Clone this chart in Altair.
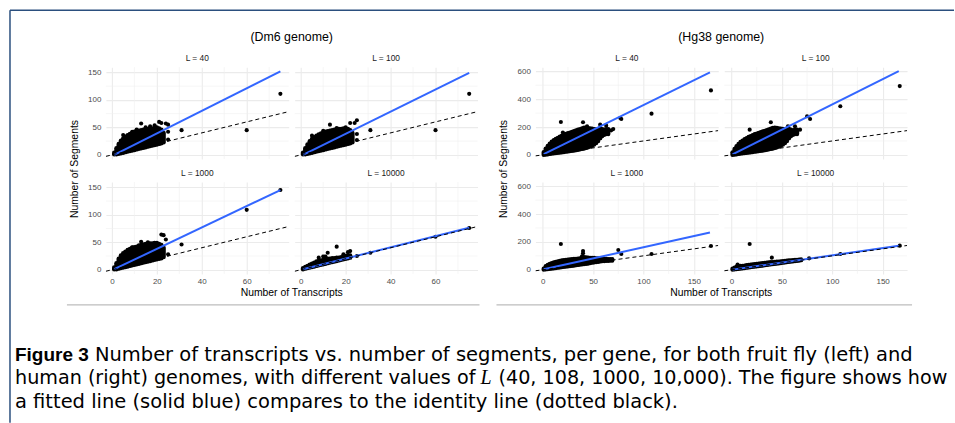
import altair as alt
import pandas as pd

FONT = "Liberation Sans"
CAP_FONT = "DejaVu Sans"

# ---------------- Dm6 genome ----------------
dm_x_domain = [-2.7, 78.7]
dm_y_domain = [-7.6, 159.6]
dm_x_ticks = [0, 20, 40, 60]
dm_x_minor = [10, 30, 50, 70]
dm_y_ticks = [0, 50, 100, 150]
dm_y_minor = [25, 75, 125]

# dense cloud: per-transcript-count column, lowest and highest segment count
dm40_cx = [1, 2, 3, 4, 5, 6, 7, 8, 9, 10, 11, 12, 13, 14, 15, 16, 17, 18, 19, 20, 21, 22, 23]
dm40_lo = [1, 1, 2, 3, 4, 5, 6, 7, 8, 9, 10, 11, 12, 13, 14, 15, 16, 17, 18, 19, 20, 21, 23]
dm40_hi = [4, 12, 20, 26, 30, 33, 36, 38, 40, 42, 43, 44, 45, 46, 47, 47, 48, 48, 49, 50, 48, 46, 40]
dm40_px = [5, 13, 17, 19, 21, 22, 24, 25, 25, 25, 31, 60, 75, 9, 11, 15]
dm40_py = [36, 57, 52, 54, 60, 58, 57, 55, 42, 28, 45, 45, 111, 42, 46, 50]
dm40_fx = [1, 75]
dm40_fy = [0, 152]

dm100_cx = [1, 2, 3, 4, 5, 6, 7, 8, 9, 10, 11, 12, 13, 14, 15, 16, 17, 18, 19, 20, 21, 22, 23]
dm100_lo = [1, 1, 2, 3, 4, 5, 6, 7, 8, 9, 10, 11, 12, 13, 14, 15, 16, 17, 18, 19, 20, 21, 23]
dm100_hi = [4, 12, 19, 25, 29, 32, 35, 37, 39, 41, 42, 43, 44, 45, 46, 46, 47, 47, 48, 48, 47, 45, 40]
dm100_px = [5, 13, 20, 22, 24, 25, 25, 25, 31, 60, 75, 10, 16]
dm100_py = [35, 55, 50, 58, 58, 63, 38, 27, 45, 45, 111, 44, 49]
dm100_fx = [1, 75]
dm100_fy = [0, 149]

dm1000_cx = [1, 2, 3, 4, 5, 6, 7, 8, 9, 10, 11, 12, 13, 14, 15, 16, 17, 18, 19, 20, 21, 22, 23]
dm1000_lo = [1, 1, 2, 3, 4, 5, 6, 7, 8, 9, 10, 11, 12, 13, 14, 15, 16, 17, 18, 19, 20, 21, 23]
dm1000_hi = [4, 12, 20, 26, 30, 33, 36, 38, 40, 41, 42, 44, 45, 46, 47, 47, 48, 48, 49, 49, 47, 45, 40]
dm1000_px = [13, 19, 22, 23, 24, 25, 31, 60, 75, 9, 16]
dm1000_py = [51, 48, 64, 63, 55, 28, 46, 109, 145, 41, 50]
dm1000_fx = [1, 75]
dm1000_fy = [1, 145]

dm10000_cx = [1, 2, 3, 4, 5, 6, 7, 8, 9, 10, 11, 12, 13, 14, 15, 16, 17, 18, 19, 20, 21, 22]
dm10000_lo = [1, 2, 3, 4, 5, 6, 7, 8, 9, 10, 11, 12, 13, 14, 15, 16, 17, 18, 19, 20, 21, 22]
dm10000_hi = [3, 5, 7, 9, 11, 13, 15, 16, 17, 18, 19, 20, 20, 21, 21, 22, 22, 23, 24, 25, 26, 26]
dm10000_px = [8, 10, 11, 12, 16, 19, 21, 22, 25, 31, 60, 75]
dm10000_py = [22, 24, 24, 31, 42, 28, 32, 34, 25, 31, 60, 76]
dm10000_fx = [1, 75]
dm10000_fy = [1, 76.5]

# ---------------- Hg38 genome ----------------
hg_x_domain = [-7.25, 174.25]
hg_y_domain = [-30, 630]
hg_x_ticks = [0, 50, 100, 150]
hg_x_minor = [25, 75, 125]
hg_y_ticks = [0, 200, 400, 600]
hg_y_minor = [100, 300, 500]

hg40_cx = [1, 3, 5, 7, 9, 11, 13, 15, 17, 19, 21, 23, 25, 27, 29, 31, 33, 35, 37, 39, 41, 43, 45, 47, 49, 51, 53, 55, 57, 59, 61, 63, 65]
hg40_lo = [1, 3, 5, 7, 9, 11, 13, 15, 17, 19, 21, 23, 25, 27, 29, 31, 34, 37, 40, 43, 46, 50, 55, 60, 66, 75, 85, 100, 120, 135, 145, 150, 150]
hg40_hi = [20, 45, 65, 80, 95, 105, 115, 122, 130, 138, 145, 150, 155, 160, 165, 170, 175, 180, 185, 190, 195, 195, 192, 190, 188, 185, 182, 178, 190, 185, 180, 185, 185]
hg40_px = [18, 20, 40, 44, 52, 57, 63, 68, 70, 77, 78, 108, 167]
hg40_py = [236, 161, 234, 205, 89, 217, 210, 176, 185, 265, 258, 296, 463]
hg40_fx = [1, 166]
hg40_fy = [5, 592]

hg100_cx = [1, 3, 5, 7, 9, 11, 13, 15, 17, 19, 21, 23, 25, 27, 29, 31, 33, 35, 37, 39, 41, 43, 45, 47, 49, 51, 53, 55, 57, 59, 61, 63, 65]
hg100_lo = [1, 3, 5, 7, 9, 11, 13, 15, 17, 19, 21, 23, 25, 27, 29, 31, 34, 37, 40, 43, 46, 50, 55, 60, 66, 75, 85, 100, 120, 135, 145, 150, 150]
hg100_hi = [18, 42, 62, 78, 92, 102, 112, 120, 128, 135, 142, 148, 153, 158, 163, 168, 172, 177, 182, 188, 193, 195, 193, 190, 188, 186, 183, 180, 186, 180, 176, 182, 180]
hg100_px = [18, 39, 51, 56, 63, 68, 75, 78, 108, 167]
hg100_py = [181, 234, 96, 205, 205, 181, 277, 258, 349, 494]
hg100_fx = [1, 166]
hg100_fy = [3, 602]

hg1000_cx = [1, 3, 5, 7, 9, 11, 13, 15, 17, 19, 21, 23, 25, 27, 29, 31, 33, 35, 37, 39, 41, 43, 45, 47, 49, 51, 53, 55, 57, 59, 61, 63, 65, 67, 69]
hg1000_lo = [1, 3, 5, 7, 9, 11, 13, 15, 17, 19, 21, 23, 25, 27, 29, 31, 33, 35, 37, 39, 41, 43, 45, 48, 51, 54, 56, 58, 60, 62, 63, 64, 65, 66, 67]
hg1000_hi = [8, 25, 35, 42, 48, 52, 56, 60, 63, 66, 68, 70, 72, 74, 75, 77, 78, 80, 82, 95, 90, 88, 86, 85, 85, 84, 82, 82, 80, 80, 78, 78, 76, 76, 75]
hg1000_px = [18, 40, 40, 75, 78, 108, 167]
hg1000_py = [185, 135, 118, 142, 113, 113, 171]
hg1000_fx = [1, 166]
hg1000_fy = [3, 267]

hg10000_cx = [1, 3, 5, 7, 9, 11, 13, 15, 17, 19, 21, 23, 25, 27, 29, 31, 33, 35, 37, 39, 41, 43, 45, 47, 49, 51, 53, 55, 57, 59, 61, 63, 65, 67, 69]
hg10000_lo = [1, 3, 5, 7, 9, 11, 13, 15, 17, 19, 21, 23, 25, 27, 29, 31, 33, 35, 37, 39, 41, 43, 45, 47, 49, 51, 53, 55, 57, 59, 61, 63, 65, 67, 69]
hg10000_hi = [8, 15, 22, 25, 27, 28, 30, 32, 34, 36, 38, 40, 42, 43, 45, 47, 49, 50, 52, 55, 55, 56, 58, 58, 60, 62, 63, 65, 66, 67, 68, 70, 71, 72, 74]
hg10000_px = [6, 18, 40, 77, 108, 167]
hg10000_py = [38, 185, 87, 82, 113, 173]
hg10000_fx = [1, 166]
hg10000_fy = [1, 172]

FIG_TITLES = ["(Dm6 genome)", "(Hg38 genome)"]
X_TITLE = "Number of Transcripts"
Y_TITLE = "Number of Segments"
CAPTION_BOLD = "Figure 3"
CAPTION_1 = "Number of transcripts vs. number of segments, per gene, for both fruit fly (left) and"
CAPTION_2A = "human (right) genomes, with different values of"
CAPTION_2B = "L"
CAPTION_2C = "(40, 108, 1000, 10,000). The figure shows how"
CAPTION_3 = "a fitted line (solid blue) compares to the identity line (dotted black)."

W, H = 183, 92
FRAME = "#2B4F7E"


def txt(s, x, y, size, color="black", weight="normal", angle=0, align="center",
        font=FONT, style="normal"):
    mk = dict(fontSize=size, color=color, fontWeight=weight, align=align,
              baseline="middle", font=font)
    if angle:
        mk["angle"] = angle
    if style != "normal":
        mk["fontStyle"] = style
    return alt.Chart(pd.DataFrame({"t": [s]})).mark_text(**mk).encode(
        text="t:N", x=alt.value(x), y=alt.value(y))


def hline(x1, x2, y, color, w):
    return alt.Chart(pd.DataFrame({"a": [0]})).mark_rule(color=color, strokeWidth=w).encode(
        x=alt.value(x1), x2=alt.value(x2), y=alt.value(y))


def vline(x, y1, y2, color, w):
    return alt.Chart(pd.DataFrame({"a": [0]})).mark_rule(color=color, strokeWidth=w).encode(
        x=alt.value(x), y=alt.value(y1), y2=alt.value(y2))


def panel(cx, lo, hi, px, py, fx, fy, xdom, ydom, xt, xm, yt, ym,
          show_x, show_y, strip, extra=()):
    xs = alt.Scale(domain=xdom, nice=False, zero=False)
    ys = alt.Scale(domain=ydom, nice=False, zero=False)
    xax = alt.Axis(values=xt, grid=True, ticks=False, tickSize=0, domain=False,
                   labels=show_x, title=None, labelPadding=4, labelFontSize=8,
                   labelColor="#4D4D4D", labelFont=FONT,
                   gridColor="#EBEBEB", gridWidth=1.1)
    yax = alt.Axis(values=yt, grid=True, ticks=False, tickSize=0, domain=False,
                   labels=show_y, title=None, labelPadding=5, labelFontSize=8,
                   labelColor="#4D4D4D", labelFont=FONT,
                   gridColor="#EBEBEB", gridWidth=1.1)
    gx = alt.Chart(pd.DataFrame({"v": xm})).mark_rule(color="#F0F0F0", strokeWidth=0.6).encode(
        x=alt.X("v:Q", scale=xs, axis=xax))
    gy = alt.Chart(pd.DataFrame({"v": ym})).mark_rule(color="#F0F0F0", strokeWidth=0.6).encode(
        y=alt.Y("v:Q", scale=ys, axis=yax))
    cols = alt.Chart(pd.DataFrame({"x": cx, "lo": lo, "hi": hi})).mark_rule(
        color="black", strokeWidth=4.4, strokeCap="round").encode(
        x=alt.X("x:Q", scale=xs, axis=xax), y=alt.Y("lo:Q", scale=ys, axis=yax), y2="hi:Q")
    pts = alt.Chart(pd.DataFrame({"x": px, "y": py})).mark_circle(
        color="black", size=17, opacity=1).encode(
        x=alt.X("x:Q", scale=xs, axis=xax), y=alt.Y("y:Q", scale=ys, axis=yax))
    fit = alt.Chart(pd.DataFrame({"x": fx, "y": fy})).mark_line(
        color="#3366FF", strokeWidth=2).encode(
        x=alt.X("x:Q", scale=xs, axis=xax), y=alt.Y("y:Q", scale=ys, axis=yax))
    ident = alt.Chart(pd.DataFrame({"x": xdom, "y": xdom})).mark_line(
        color="black", strokeWidth=1, strokeDash=[4, 3], clip=True).encode(
        x=alt.X("x:Q", scale=xs, axis=xax), y=alt.Y("y:Q", scale=ys, axis=yax))
    st = txt(strip, W / 2, -9, 8.4, color="#1A1A1A")
    return alt.layer(gx, gy, cols, pts, fit, ident, st, *extra).properties(width=W, height=H)


def spacer():
    return alt.Chart(pd.DataFrame({"a": [0]})).mark_point(opacity=0).encode(
        x=alt.value(0), y=alt.value(0)).properties(width=46, height=H)


# decorations and caption, positioned relative to the Dm6 top-left panel
deco = [
    hline(-96, 849, -57, FRAME, 1.5),
    vline(-96, -57, 356, FRAME, 1.5),
    hline(-39, 374, 238, "#BDBDBD", 1.2),
    hline(391, 807, 238, "#BDBDBD", 1.2),
    txt(CAPTION_BOLD, -91, 288, 19, weight="bold", align="left"),
    txt(CAPTION_1, -11, 288, 19.5, align="left", font=CAP_FONT),
    txt(CAPTION_2A, -91, 311, 19.2, align="left", font=CAP_FONT),
    txt(CAPTION_2B, 375, 311, 20, align="left", font="Liberation Serif", style="italic"),
    txt(CAPTION_2C, 393, 311, 19.2, align="left", font=CAP_FONT),
    txt(CAPTION_3, -91, 335, 19.5, align="left", font=CAP_FONT),
    txt(FIG_TITLES[0], W + 3, -30, 12.4),
]

dm_TL = panel(dm40_cx, dm40_lo, dm40_hi, dm40_px, dm40_py, dm40_fx, dm40_fy,
              dm_x_domain, dm_y_domain, dm_x_ticks, dm_x_minor, dm_y_ticks, dm_y_minor,
              False, True, "L = 40", deco)
dm_TR = panel(dm100_cx, dm100_lo, dm100_hi, dm100_px, dm100_py, dm100_fx, dm100_fy,
              dm_x_domain, dm_y_domain, dm_x_ticks, dm_x_minor, dm_y_ticks, dm_y_minor,
              False, False, "L = 100")
dm_BL = panel(dm1000_cx, dm1000_lo, dm1000_hi, dm1000_px, dm1000_py, dm1000_fx, dm1000_fy,
              dm_x_domain, dm_y_domain, dm_x_ticks, dm_x_minor, dm_y_ticks, dm_y_minor,
              True, True, "L = 1000",
              [txt(X_TITLE, W + 3, 111, 10.4), txt(Y_TITLE, -31, -13, 10.4, angle=270)])
dm_BR = panel(dm10000_cx, dm10000_lo, dm10000_hi, dm10000_px, dm10000_py, dm10000_fx, dm10000_fy,
              dm_x_domain, dm_y_domain, dm_x_ticks, dm_x_minor, dm_y_ticks, dm_y_minor,
              True, False, "L = 10000")

hg_TL = panel(hg40_cx, hg40_lo, hg40_hi, hg40_px, hg40_py, hg40_fx, hg40_fy,
              hg_x_domain, hg_y_domain, hg_x_ticks, hg_x_minor, hg_y_ticks, hg_y_minor,
              False, True, "L = 40", [txt(FIG_TITLES[1], W + 3, -30, 12.4)])
hg_TR = panel(hg100_cx, hg100_lo, hg100_hi, hg100_px, hg100_py, hg100_fx, hg100_fy,
              hg_x_domain, hg_y_domain, hg_x_ticks, hg_x_minor, hg_y_ticks, hg_y_minor,
              False, False, "L = 100")
hg_BL = panel(hg1000_cx, hg1000_lo, hg1000_hi, hg1000_px, hg1000_py, hg1000_fx, hg1000_fy,
              hg_x_domain, hg_y_domain, hg_x_ticks, hg_x_minor, hg_y_ticks, hg_y_minor,
              True, True, "L = 1000",
              [txt(X_TITLE, W + 3, 111, 10.4), txt(Y_TITLE, -31, -13, 10.4, angle=270)])
hg_BR = panel(hg10000_cx, hg10000_lo, hg10000_hi, hg10000_px, hg10000_py, hg10000_fx, hg10000_fy,
              hg_x_domain, hg_y_domain, hg_x_ticks, hg_x_minor, hg_y_ticks, hg_y_minor,
              True, False, "L = 10000")

chart = alt.concat(
    dm_TL, dm_TR, spacer(), hg_TL, hg_TR,
    dm_BL, dm_BR, spacer(), hg_BL, hg_BR,
    columns=5, spacing={"row": 23, "column": 6}, bounds="flush",
).properties(
    padding={"left": 9, "top": 9, "right": 0, "bottom": 0},
    background="white",
).configure_view(strokeWidth=0)

chart.save("out.html", embed_options={"renderer": "svg", "actions": False})
